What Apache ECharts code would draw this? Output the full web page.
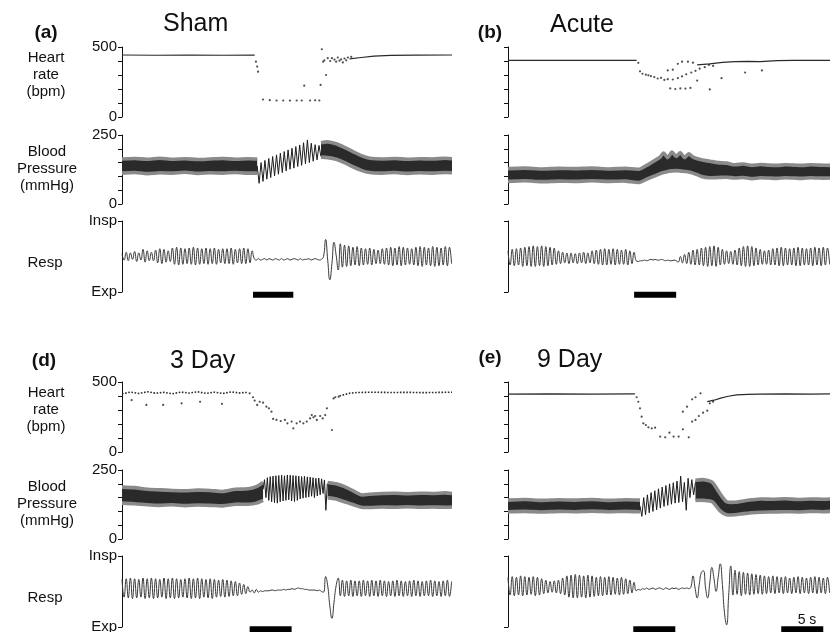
<!DOCTYPE html>
<html>
<head>
<meta charset="utf-8">
<script src="https://cdn.jsdelivr.net/npm/echarts@6/dist/echarts.min.js"></script>
<style>
  html, body { margin: 0; padding: 0; background: #fff; }
  #chart { width: 830px; height: 632px; }
</style>
</head>
<body>
<div id="chart"></div>
<script>
// time in seconds, heart rate in bpm, blood pressure in mmHg, resp in 0 (Exp) .. 100 (Insp)
const RESP_STEP = 0.25

// ---- (a) Sham ----
const hrLineA1 = [[0, 443], [4, 441], [8, 442], [12, 441], [15.8, 442]]
const hrLineA2 = [[27.1, 415], [28.5, 425], [30, 435], [32, 440], [35, 442], [39.3, 443]]
const hrDotsA = [[15.95, 395], [16.1, 360], [16.2, 324], [16.8, 125], [17.6, 120], [18.4, 118], [19.2, 118],
  [20.0, 117], [20.8, 118], [21.4, 118], [22.4, 118], [23.0, 119], [23.5, 118], [21.7, 224], [23.65, 229],
  [23.8, 484], [23.96, 395], [24.3, 300], [24.1, 405], [24.5, 420], [24.8, 400], [25.0, 420], [25.3, 410],
  [25.5, 395], [25.7, 425], [25.9, 402], [26.1, 412], [26.3, 390], [26.5, 418], [26.7, 405], [26.9, 425], [27.3, 430]]
const bpBandA1 = [[0, 112, 163], [1.5, 114, 165], [3, 110, 162], [4.5, 113, 166], [6, 112, 162], [7.5, 115, 164],
  [9, 111, 161], [10.5, 113, 163], [12, 112, 165], [13.5, 114, 162], [15, 112, 164], [16.1, 112, 163]]
const bpBandA2 = [[23.7, 170, 222], [24.5, 168, 225], [25.5, 162, 218], [26.5, 150, 205], [27.5, 135, 190],
  [28.5, 122, 175], [29.5, 114, 166], [31, 112, 163], [32.5, 114, 165], [34, 111, 162], [35.5, 113, 164],
  [37, 112, 163], [38.5, 114, 166], [39.3, 113, 164]]
const bpWaveA = [138, 75, 150, 82, 158, 90, 165, 96, 172, 102, 178, 108, 184, 114, 190, 120, 196, 126, 202, 130,
  208, 136, 214, 140, 222, 146, 232, 150, 220, 155, 215, 160, 212, 172]
const respA = [54, 45, 56, 44, 55, 46, 57, 43, 55, 45, 60, 42, 58, 44, 56,
  44, 59, 41, 61, 40, 60, 42, 58, 43, 62, 39, 63, 38, 62, 39, 61,
  40, 62, 39, 63, 38, 62, 39, 61, 40, 62, 39, 61, 40, 62, 39, 60,
  41, 61, 40, 61, 40, 62, 39, 60, 41, 61, 40, 62, 40, 61, 41, 58,
  47, 45, 47, 45, 46, 47, 45, 47, 46, 45, 47, 46, 45, 47, 45, 46, 47, 45, 46, 47, 46, 45, 47, 45, 46, 46, 47, 45, 46, 47, 46, 45,
  46, 50, 74, 45, 17, 40, 70, 52, 31,
  68, 35, 66, 36, 65, 37, 63, 38, 64, 37, 62, 38, 61, 39, 62, 38, 60, 40, 59, 40,
  61, 39, 62, 38, 63, 37, 62, 38, 64, 37, 63, 38, 62, 39, 61, 38, 63, 37, 64, 36,
  63, 38, 62, 37, 64, 36, 63, 37, 62, 38, 64, 37, 63, 40]
const stimA = [15.6, 20.4]

// ---- (b) Acute ----
const hrLineB1 = [[0, 404], [5, 405], [10, 404], [15.3, 405]]
const hrLineB2 = [[22.5, 372], [24, 380], [25.5, 390], [27, 396], [28.5, 398], [30, 395], [32, 402], [34, 404], [36, 405], [38.3, 404]]
const hrDotsB = [[15.5, 387], [15.7, 326], [16.0, 309], [16.4, 302], [16.7, 298], [17.0, 292], [17.4, 285], [17.8, 275],
  [18.2, 280], [18.6, 265], [19.0, 270], [19.3, 204], [19.9, 200], [20.5, 204], [21.1, 203], [21.7, 208],
  [19.0, 333], [19.6, 338], [20.2, 380], [20.7, 395], [21.4, 395], [22.0, 388],
  [19.6, 268], [20.2, 278], [20.7, 290], [21.2, 305], [21.8, 318], [22.3, 330], [22.8, 345], [23.4, 356], [23.9, 372], [24.4, 365],
  [22.5, 260], [24.0, 197], [25.4, 277], [28.2, 318], [30.2, 333]]
const bpBandB = [[0, 82, 128], [2, 84, 130], [4, 81, 127], [6, 83, 129], [8, 82, 128], [10, 84, 130], [12, 82, 127],
  [14, 83, 129], [15.6, 78, 126], [16.5, 90, 140], [17.3, 100, 155], [18.1, 110, 170], [18.5, 114, 185],
  [19.0, 118, 168], [19.5, 120, 188], [20.0, 121, 172], [20.5, 120, 186], [21.0, 118, 168], [21.5, 116, 182],
  [22.0, 112, 170], [23.0, 100, 160], [24.0, 95, 155], [25.0, 96, 150], [26.0, 97, 148], [27, 94, 142], [28, 96, 145],
  [29, 92, 140], [30, 95, 143], [31, 94, 141], [32, 93, 140], [33, 95, 142], [34, 94, 141], [35, 93, 140],
  [36, 95, 142], [37, 94, 141], [38.3, 94, 140]]
const respB = [58, 38, 60, 37, 61, 38, 62, 36, 63, 37, 64, 36, 65, 36, 64, 37,
  65, 36, 64, 37, 63, 38, 62, 39, 58, 40, 56, 41, 55, 40, 55, 41,
  54, 40, 55, 41, 56, 40, 55, 41, 58, 40, 59, 39, 60, 38, 61, 38,
  60, 39, 61, 38, 60, 39, 59, 39, 60, 38, 58, 40, 56,
  44, 43, 44, 44, 45, 44, 45, 46, 45, 46, 45, 45, 46, 45, 44, 45, 44, 44, 45, 44,
  42, 50, 41, 53, 40, 56, 39, 59, 38, 60, 38, 62, 37, 63, 36, 64,
  37, 65, 36, 63, 38, 60, 39, 58, 40, 57, 39, 59, 38, 62, 37, 64,
  36, 65, 36, 64, 37, 62, 38, 60, 39, 58, 39, 59, 38, 61, 38, 62,
  37, 63, 37, 62, 38, 61, 38, 62, 37, 63, 37, 62, 38, 61, 38, 62,
  37, 63, 38, 62, 37, 63, 38, 62, 39]
const stimB = [15.0, 20.0]

// ---- (d) 3 Day ----
const hrLineD1 = [[0, 415], [1, 428], [2, 418], [3, 430], [4, 420], [5, 426], [6, 416], [7, 428], [8, 421],
  [9, 430], [10, 419], [11, 427], [12, 418], [13, 429], [14, 422], [15, 426]]
const hrLineD2 = [[25.9, 400], [26.5, 410], [27.1, 420], [28, 425], [30, 427], [32, 425], [34, 426], [36, 424], [38, 426], [39.3, 427]]
const hrDotsD = [[1.15, 371], [2.9, 336], [4.9, 336], [7.1, 348], [9.3, 359], [11.9, 344],
  [15.2, 419], [15.6, 391], [15.8, 367], [16.1, 336], [16.4, 359], [16.8, 352], [17.2, 324], [17.5, 312], [17.8, 288],
  [18.0, 236], [18.4, 229], [18.9, 221], [19.4, 229], [19.7, 205], [20.2, 217], [20.4, 169], [20.8, 205],
  [21.2, 217], [21.6, 205], [22.0, 217], [22.4, 240], [22.8, 248], [23.2, 229], [23.6, 257], [23.9, 240], [24.2, 264],
  [22.6, 264], [23.0, 257], [24.4, 312], [25.0, 157], [25.2, 383], [25.4, 391], [25.8, 395]]
const bpBandD1 = [[0, 130, 188], [1.5, 128, 186], [3, 124, 180], [4.5, 122, 178], [6, 124, 176], [7.5, 121, 175],
  [9, 123, 177], [10.5, 122, 176], [12, 120, 172], [13.5, 126, 180], [15, 126, 182], [16, 130, 190], [16.8, 140, 205]]
const bpBandD2 = [[24.5, 150, 205], [25.5, 145, 200], [26.5, 135, 190], [27.5, 125, 175], [28.5, 115, 160],
  [29.5, 114, 162], [31, 116, 165], [32.5, 115, 166], [34, 117, 164], [35.5, 115, 166], [37, 116, 165],
  [38.5, 115, 167], [39.3, 116, 165]]
const bpWaveD = [180, 215, 150, 222, 140, 226, 135, 228, 132, 229, 130, 230, 135, 231, 138, 229, 140, 232, 142, 231,
  138, 230, 136, 229, 140, 228, 145, 226, 148, 227, 150, 225, 152, 224, 155, 222, 150, 220, 156, 221, 160, 218,
  165, 214, 104, 200]
const respD = [67, 42, 68, 41, 69, 40, 68, 41, 67, 42, 69, 40, 68, 41, 69, 40,
  68, 41, 67, 42, 69, 40, 68, 41, 69, 40, 68, 41, 67, 42, 68, 41,
  69, 40, 68, 41, 69, 40, 68, 42, 67, 41, 68, 40, 67, 42, 66, 43,
  67, 42, 66, 43, 65, 44, 64, 44, 62, 46, 60, 47, 57, 49,
  52, 48, 53, 49, 51, 50, 51, 51, 51, 52, 52, 51, 52, 52, 52, 53, 52, 53, 53, 54, 53, 54, 55, 54, 54, 53, 53, 52, 52, 52, 52, 51, 52,
  50, 49, 71, 58, 30, 12, 35, 58, 69,
  44, 66, 43, 65, 44, 66, 43, 65, 44, 65, 43, 66, 44, 65, 43, 66,
  44, 65, 43, 66, 44, 65, 43, 64, 44, 65, 43, 66, 44, 65, 43, 64,
  44, 65, 43, 66, 44, 65, 43, 64, 44, 65, 44, 66, 43, 65, 44, 64, 43, 65, 44, 66, 43, 64]
const stimD = [15.2, 20.2]

// ---- (e) 9 Day ----
const hrLineE1 = [[0, 414], [5, 415], [10, 414], [15.1, 415]]
const hrLineE2 = [[23.7, 360], [24.5, 370], [25.3, 385], [26.2, 398], [27.2, 408], [28.5, 412], [30, 414], [33, 415], [36, 414], [38.3, 415]]
const hrDotsE = [[15.3, 391], [15.5, 359], [15.7, 312], [15.9, 252], [16.1, 205], [16.4, 193], [16.7, 176], [17.1, 169],
  [17.5, 174], [18.1, 110], [18.7, 105], [19.2, 138], [19.7, 110], [20.3, 110], [20.8, 162], [21.5, 105],
  [20.8, 288], [21.3, 324], [21.9, 376], [22.3, 391], [22.9, 419],
  [21.9, 217], [22.3, 229], [22.7, 257], [23.2, 281], [23.7, 295], [24.0, 348], [24.4, 359]]
const bpBandE1 = [[0, 99, 141], [2, 100, 143], [4, 98, 140], [6, 100, 142], [8, 99, 141], [10, 101, 143],
  [12, 99, 140], [14, 100, 142], [15.7, 99, 141]]
const bpBandE2 = [[22.3, 140, 213], [23.3, 140, 215], [24.3, 135, 205], [25.2, 103, 165], [26, 88, 135], [27, 88, 133],
  [28, 92, 138], [29, 95, 142], [30, 97, 145], [31.5, 98, 144], [33, 99, 146], [34.5, 98, 143], [36, 100, 145],
  [37.5, 99, 144], [38.3, 100, 145]]
const bpWaveE = [120, 82, 150, 88, 160, 95, 168, 100, 175, 106, 182, 112, 188, 118, 194, 122, 200, 126, 204, 130,
  210, 132, 228, 135, 205, 104, 220, 150, 215, 160, 205]
const respE = [70, 45, 71, 44, 70, 45, 72, 44, 71, 45, 70, 46, 71, 44, 70, 45,
  68, 47, 66, 48, 64, 49, 65, 48, 66, 47, 69, 45, 72, 42, 73, 41,
  74, 41, 73, 42, 72, 41, 73, 42, 72, 43, 70, 44, 71, 44, 70, 45,
  71, 45, 70, 46, 69, 45, 70, 46, 68, 47, 66, 48, 63, 51,
  53, 52, 54, 53, 55, 53, 54, 55, 53, 54, 55, 54, 53, 55, 54, 53, 55, 54, 55, 53, 54, 55, 54, 55, 54, 56,
  72, 55, 41, 60, 77, 79, 55, 41, 62, 84, 68, 50, 70, 89, 60, 20, 3, 45, 86, 45,
  80, 46, 78, 44, 77, 46, 76, 45, 75, 46, 74, 47, 73, 46, 72, 47,
  71, 48, 72, 47, 71, 48, 70, 47, 71, 48, 69, 47, 70, 48, 71, 47,
  70, 48, 69, 47, 70, 48, 71, 47, 70, 48, 69, 47, 70, 48]
const stimE = [14.9, 19.9]
const scaleBarE = [32.5, 37.5]

const FONT = '"Liberation Sans", Arial, sans-serif'
const INK = '#111'

const panels = [
  { left: 122, width: 330, tMax: 39.3, dy: 0, labels: true, hrLines: [hrLineA1, hrLineA2], hrDots: hrDotsA, dotted: false,
    bands: [bpBandA1, bpBandA2], wave: bpWaveA, waveStart: 16.1, waveStep: 0.23, resp: respA, stim: stimA, barY: -4 },
  { left: 508, width: 322, tMax: 38.3, dy: 0, labels: false, hrLines: [hrLineB1, hrLineB2], hrDots: hrDotsB, dotted: false,
    bands: [bpBandB], wave: null, resp: respB, stim: stimB, barY: -4 },
  { left: 122, width: 330, tMax: 39.3, dy: 335, labels: true, hrLines: [hrLineD1, hrLineD2], hrDots: hrDotsD, dotted: true,
    bands: [bpBandD1, bpBandD2], wave: bpWaveD, waveStart: 16.8, waveStep: 0.17, resp: respD, stim: stimD, barY: -3 },
  { left: 508, width: 322, tMax: 38.3, dy: 335, labels: false, hrLines: [hrLineE1, hrLineE2], hrDots: hrDotsE, dotted: false,
    bands: [bpBandE1, bpBandE2], wave: bpWaveE, waveStart: 15.7, waveStep: 0.22, resp: respE, stim: stimE, barY: -3,
    scaleBar: scaleBarE }
]

// rows inside a panel: heart rate, blood pressure, respiration
const rows = [
  { top: 47, height: 70, max: 500, interval: 100, fmt: v => (v === 0 || v === 500) ? String(v) : '' },
  { top: 135, height: 69, max: 250, interval: 50, fmt: v => (v === 0 || v === 250) ? String(v) : '' },
  { top: 221, height: 71, max: 100, interval: 100, fmt: v => v === 100 ? 'Insp' : 'Exp' }
]

// min/max envelope of the dense pulse trace: dark fill, grey fuzzy edges
function bandSeries(gi, band) {
  return {
    type: 'custom', xAxisIndex: gi, yAxisIndex: gi, silent: true, z: 2,
    data: band,
    encode: { x: 0, y: [1, 2] },
    renderItem: (params, api) => {
      if (params.dataIndex !== 0) return null
      const upper = band.map(d => api.coord([d[0], d[2]]))
      const lower = band.map(d => api.coord([d[0], d[1]]))
      const edge = { fill: null, stroke: '#8a8a8a', lineWidth: 3.6 }
      return {
        type: 'group',
        children: [
          { type: 'polygon', shape: { points: upper.concat(lower.slice().reverse()) }, style: { fill: '#2a2a2a' } },
          { type: 'polyline', shape: { points: upper, smooth: 0.25 }, style: edge },
          { type: 'polyline', shape: { points: lower, smooth: 0.25 }, style: edge }
        ]
      }
    }
  }
}

const grid = [], xAxis = [], yAxis = [], series = []

panels.forEach((p, pi) => {
  rows.forEach((r, ri) => {
    const gi = pi * 3 + ri
    grid.push({ left: p.left, top: r.top + p.dy, width: p.width, height: r.height, outerBoundsMode: 'none' })
    xAxis.push({ gridIndex: gi, type: 'value', min: 0, max: p.tMax, show: false })
    yAxis.push({
      gridIndex: gi, type: 'value', min: 0, max: r.max, interval: r.interval,
      axisLine: { show: true, lineStyle: { color: INK, width: 1 } },
      axisTick: { show: true, inside: false, length: 4, lineStyle: { color: INK, width: 1 } },
      splitLine: { show: false },
      axisLabel: { show: p.labels, formatter: r.fmt, color: INK, fontSize: 15, fontFamily: FONT, margin: 5 }
    })
  })

  const g = pi * 3
  // heart rate
  p.hrLines.forEach(seg => series.push({
    type: 'line', xAxisIndex: g, yAxisIndex: g, data: seg, showSymbol: false, silent: true,
    lineStyle: { color: '#2a2a2a', width: p.dotted ? 1.6 : 1.2, type: p.dotted ? 'dotted' : 'solid' }
  }))
  series.push({
    type: 'scatter', xAxisIndex: g, yAxisIndex: g, data: p.hrDots, symbolSize: 2.2, silent: true,
    itemStyle: { color: '#222' }
  })

  // blood pressure: dense pulse band + individual beats
  p.bands.forEach(band => series.push(bandSeries(g + 1, band)))
  if (p.wave) {
    series.push({
      type: 'line', xAxisIndex: g + 1, yAxisIndex: g + 1, showSymbol: false, silent: true, z: 4,
      data: p.wave.map((v, i) => [p.waveStart + i * p.waveStep, v]),
      lineStyle: { color: '#1c1c1c', width: 1 }
    })
  }

  // respiration
  series.push({
    type: 'line', xAxisIndex: g + 2, yAxisIndex: g + 2, showSymbol: false, silent: true, smooth: 0.5,
    data: p.resp.map((v, i) => [i * RESP_STEP, v]),
    lineStyle: { color: '#3a3a3a', width: 1 }
  })

  // stimulus bar (and 5 s scale bar)
  const bars = [p.stim].concat(p.scaleBar ? [p.scaleBar] : [])
  bars.forEach(b => series.push({
    type: 'line', xAxisIndex: g + 2, yAxisIndex: g + 2, showSymbol: false, silent: true, clip: false,
    data: [[b[0], p.barY], [b[1], p.barY]],
    lineStyle: { color: '#000', width: 6, cap: 'butt' }
  }))
})

// free text: panel letters, titles, row labels
const texts = [
  ['(a)', 46, 33, 'bold 19px', 'center'], ['Sham', 163, 24, '25px', 'left'],
  ['(b)', 490, 33, 'bold 19px', 'center'], ['Acute', 550, 25, '25px', 'left'],
  ['(d)', 44, 361, 'bold 19px', 'center'], ['3 Day', 170, 361, '25px', 'left'],
  ['(e)', 490, 358, 'bold 19px', 'center'], ['9 Day', 537, 360, '25px', 'left'],
  ['Heart\nrate\n(bpm)', 46, 75, '15px', 'center'], ['Blood\nPressure\n(mmHg)', 47, 169, '15px', 'center'],
  ['Resp', 45, 263, '15px', 'center'],
  ['Heart\nrate\n(bpm)', 46, 410, '15px', 'center'], ['Blood\nPressure\n(mmHg)', 47, 504, '15px', 'center'],
  ['Resp', 45, 598, '15px', 'center'],
  ['5 s', 807, 620, '14px', 'center']
]

const chart = echarts.init(document.getElementById('chart'), null, { renderer: 'canvas' })
chart.setOption({
  animation: false,
  backgroundColor: '#fff',
  grid, xAxis, yAxis, series,
  graphic: texts.map(t => ({
    type: 'text', x: t[1], y: t[2], silent: true,
    style: {
      text: t[0], font: t[3] + ' ' + FONT, fill: INK,
      align: t[4], verticalAlign: 'middle', textAlign: t[4], textVerticalAlign: 'middle', lineHeight: 17
    }
  }))
})
</script>
</body>
</html>
